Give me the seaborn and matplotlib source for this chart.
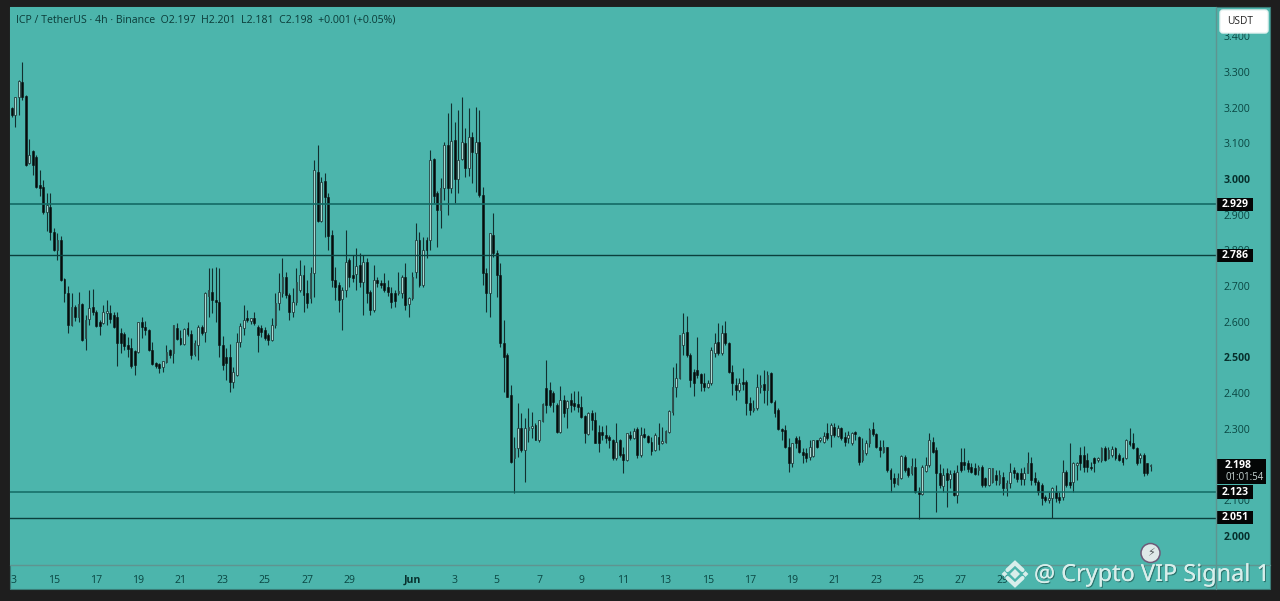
import matplotlib
matplotlib.use("Agg")
import matplotlib.pyplot as plt
import matplotlib.patheffects as pe
from matplotlib.patches import Circle, FancyBboxPatch, Rectangle
import numpy as np
import pandas as pd
import seaborn as sns

# ICP/USDT 4h candles
opens = [
    3.199,3.179,3.23,3.272,3.233,3.045,3.078,3.062,2.983,2.978,
    2.908,2.922,2.852,2.801,2.829,2.72,2.681,2.591,2.641,2.613,
    2.65,2.555,2.608,2.641,2.627,2.599,2.596,2.625,2.625,2.619,
    2.613,2.569,2.566,2.535,2.526,2.518,2.515,2.599,2.585,2.577,
    2.521,2.484,2.482,2.473,2.487,2.521,2.512,2.582,2.555,2.538,
    2.582,2.566,2.51,2.535,2.585,2.571,2.672,2.683,2.661,2.655,
    2.535,2.501,2.501,2.431,2.451,2.543,2.582,2.61,2.602,2.61,
    2.585,2.582,2.577,2.563,2.549,2.591,2.653,2.681,2.725,2.675,
    2.627,2.655,2.689,2.731,2.681,2.667,2.737,3.02,2.882,2.994,
    2.95,2.843,2.717,2.703,2.664,2.689,2.773,2.731,2.734,2.759,
    2.711,2.767,2.683,2.633,2.717,2.709,2.709,2.697,2.681,2.681,
    2.681,2.681,2.725,2.65,2.667,2.739,2.829,2.703,2.829,2.829,
    3.056,2.961,2.913,2.975,3.095,2.975,3.109,3.0,3.056,3.101,
    3.031,3.118,3.073,3.104,2.955,2.737,2.681,2.843,2.793,2.731,
    2.54,2.507,2.395,2.218,2.246,2.302,2.241,2.297,2.302,2.311,
    2.269,2.322,2.414,2.409,2.4,2.367,2.291,2.381,2.358,2.381,
    2.372,2.369,2.361,2.336,2.285,2.344,2.325,2.291,2.291,2.283,
    2.277,2.269,2.218,2.269,2.23,2.213,2.283,2.274,2.3,2.227,
    2.285,2.28,2.263,2.241,2.277,2.26,2.263,2.291,2.347,2.417,
    2.442,2.535,2.571,2.507,2.459,2.465,2.454,2.428,2.417,2.428,
    2.512,2.543,2.512,2.569,2.54,2.459,2.423,2.409,2.431,2.431,
    2.372,2.353,2.358,2.417,2.426,2.409,2.456,2.375,2.353,2.3,
    2.297,2.249,2.204,2.274,2.269,2.235,2.232,2.221,2.224,2.269,
    2.269,2.263,2.288,2.283,2.305,2.28,2.302,2.277,2.274,2.26,
    2.291,2.277,2.213,2.232,2.26,2.3,2.285,2.249,2.235,2.249,
    2.185,2.162,2.146,2.162,2.221,2.19,2.176,2.193,2.126,2.117,
    2.182,2.199,2.263,2.241,2.176,2.14,2.176,2.159,2.176,2.115,
    2.207,2.207,2.204,2.193,2.19,2.185,2.193,2.162,2.143,2.151,
    2.171,2.148,2.165,2.134,2.148,2.185,2.176,2.176,2.159,2.176,
    2.204,2.162,2.151,2.143,2.109,2.101,2.106,2.123,2.109,2.109,
    2.179,2.151,2.151,2.199,2.227,2.227,2.213,2.193,2.218,2.213,
    2.213,2.246,2.218,2.227,2.246,2.227,2.218,2.218,2.266,2.26,
    2.246,2.218,2.227,2.204,2.197,
]
highs = [
    3.202,3.23,3.277,3.328,3.235,3.112,3.081,3.067,3.025,2.997,
    2.961,2.961,2.863,2.849,2.84,2.723,2.7,2.681,2.647,2.683,
    2.653,2.619,2.689,2.692,2.633,2.605,2.647,2.661,2.647,2.627,
    2.627,2.582,2.571,2.557,2.554,2.521,2.599,2.613,2.602,2.58,
    2.543,2.487,2.484,2.49,2.535,2.524,2.591,2.597,2.577,2.582,
    2.599,2.577,2.549,2.591,2.591,2.683,2.751,2.751,2.753,2.751,
    2.56,2.526,2.538,2.473,2.569,2.597,2.647,2.633,2.61,2.627,
    2.591,2.591,2.585,2.569,2.611,2.681,2.737,2.779,2.739,2.681,
    2.695,2.751,2.773,2.759,2.717,2.753,3.053,3.095,3.006,3.017,
    2.961,2.857,2.753,2.711,2.697,2.857,2.779,2.787,2.807,2.793,
    2.787,2.779,2.689,2.759,2.725,2.717,2.737,2.717,2.697,2.689,
    2.739,2.731,2.765,2.669,2.739,2.877,2.852,2.838,2.838,3.081,
    3.059,2.966,3.003,3.104,3.185,3.213,3.16,3.193,3.23,3.143,
    3.199,3.132,3.202,3.193,2.978,2.751,2.849,2.905,2.801,2.765,
    2.605,2.512,2.423,2.277,2.372,2.344,2.33,2.358,2.347,2.316,
    2.325,2.372,2.493,2.431,2.406,2.372,2.42,2.395,2.381,2.4,
    2.406,2.406,2.392,2.339,2.347,2.353,2.347,2.311,2.308,2.311,
    2.283,2.272,2.316,2.272,2.249,2.288,2.294,2.302,2.305,2.305,
    2.302,2.283,2.277,2.288,2.316,2.305,2.297,2.353,2.473,2.484,
    2.563,2.624,2.616,2.512,2.468,2.557,2.456,2.456,2.437,2.529,
    2.569,2.597,2.591,2.602,2.543,2.479,2.442,2.442,2.471,2.437,
    2.389,2.381,2.454,2.451,2.465,2.462,2.459,2.381,2.358,2.302,
    2.311,2.274,2.26,2.28,2.28,2.246,2.246,2.269,2.269,2.269,
    2.277,2.291,2.316,2.316,2.316,2.311,2.305,2.291,2.294,2.291,
    2.294,2.28,2.274,2.269,2.302,2.319,2.288,2.269,2.269,2.249,
    2.19,2.176,2.176,2.227,2.227,2.193,2.218,2.218,2.137,2.199,
    2.221,2.288,2.277,2.249,2.201,2.19,2.19,2.185,2.185,2.199,
    2.246,2.246,2.213,2.204,2.204,2.199,2.199,2.165,2.19,2.19,
    2.185,2.185,2.179,2.157,2.204,2.193,2.179,2.19,2.193,2.235,
    2.221,2.179,2.157,2.148,2.115,2.123,2.137,2.143,2.123,2.213,
    2.185,2.26,2.207,2.207,2.249,2.252,2.232,2.207,2.221,2.221,
    2.249,2.252,2.249,2.252,2.249,2.232,2.221,2.272,2.302,2.288,
    2.249,2.232,2.232,2.204,2.201,
]
lows = [
    3.174,3.146,3.179,3.221,3.036,3.042,3.011,2.975,2.952,2.902,
    2.854,2.829,2.799,2.773,2.714,2.655,2.569,2.588,2.602,2.599,
    2.546,2.521,2.591,2.619,2.585,2.563,2.594,2.591,2.596,2.582,
    2.476,2.512,2.521,2.501,2.47,2.451,2.512,2.554,2.563,2.518,
    2.479,2.47,2.456,2.459,2.484,2.498,2.484,2.549,2.535,2.535,
    2.56,2.496,2.504,2.493,2.563,2.543,2.613,2.625,2.599,2.501,
    2.465,2.437,2.403,2.414,2.448,2.529,2.563,2.599,2.594,2.591,
    2.515,2.557,2.549,2.535,2.546,2.582,2.633,2.669,2.667,2.605,
    2.613,2.647,2.683,2.627,2.639,2.653,2.669,2.88,2.88,2.838,
    2.801,2.697,2.661,2.627,2.577,2.669,2.697,2.711,2.689,2.697,
    2.619,2.652,2.619,2.627,2.697,2.695,2.683,2.672,2.639,2.641,
    2.675,2.667,2.633,2.613,2.661,2.723,2.697,2.697,2.779,2.801,
    2.933,2.81,2.863,2.941,2.899,2.961,2.933,2.961,3.053,3.006,
    3.008,2.989,2.964,2.95,2.703,2.627,2.613,2.781,2.669,2.529,
    2.403,2.389,2.204,2.12,2.221,2.235,2.151,2.263,2.274,2.269,
    2.263,2.319,2.344,2.361,2.347,2.288,2.288,2.333,2.302,2.347,
    2.353,2.347,2.33,2.26,2.283,2.297,2.26,2.235,2.269,2.26,
    2.246,2.213,2.213,2.221,2.176,2.21,2.269,2.272,2.218,2.221,
    2.274,2.26,2.227,2.238,2.241,2.258,2.26,2.288,2.339,2.389,
    2.44,2.507,2.501,2.417,2.392,2.442,2.406,2.406,2.414,2.423,
    2.501,2.507,2.507,2.535,2.456,2.395,2.381,2.403,2.409,2.339,
    2.339,2.347,2.353,2.4,2.372,2.367,2.372,2.333,2.297,2.269,
    2.246,2.179,2.193,2.246,2.232,2.204,2.207,2.213,2.221,2.246,
    2.263,2.26,2.269,2.249,2.277,2.277,2.269,2.252,2.26,2.255,
    2.269,2.199,2.207,2.227,2.249,2.28,2.246,2.221,2.232,2.179,
    2.123,2.137,2.143,2.159,2.179,2.165,2.171,2.12,2.047,2.115,
    2.179,2.193,2.232,2.067,2.134,2.123,2.081,2.134,2.112,2.092,
    2.179,2.185,2.179,2.176,2.171,2.171,2.137,2.137,2.14,2.148,
    2.143,2.143,2.115,2.112,2.134,2.162,2.151,2.143,2.143,2.176,
    2.143,2.143,2.115,2.087,2.095,2.092,2.05,2.095,2.092,2.101,
    2.137,2.134,2.123,2.157,2.185,2.179,2.179,2.185,2.179,2.207,
    2.207,2.21,2.216,2.221,2.213,2.21,2.199,2.216,2.252,2.244,
    2.199,2.204,2.168,2.171,2.181,
]
closes = [
    3.179,3.23,3.275,3.23,3.039,3.067,3.039,2.978,2.975,2.908,
    2.927,2.852,2.801,2.829,2.717,2.681,2.591,2.641,2.613,2.65,
    2.549,2.605,2.639,2.627,2.588,2.588,2.627,2.63,2.608,2.585,
    2.54,2.54,2.532,2.524,2.476,2.479,2.599,2.585,2.577,2.521,
    2.482,2.476,2.47,2.49,2.515,2.507,2.591,2.552,2.538,2.58,
    2.566,2.507,2.54,2.585,2.569,2.681,2.689,2.661,2.655,2.535,
    2.479,2.484,2.431,2.459,2.543,2.588,2.605,2.605,2.61,2.597,
    2.563,2.571,2.554,2.549,2.591,2.653,2.683,2.725,2.675,2.627,
    2.655,2.711,2.731,2.675,2.653,2.737,3.025,2.882,2.992,2.95,
    2.84,2.717,2.697,2.661,2.689,2.767,2.725,2.723,2.756,2.711,
    2.767,2.681,2.633,2.717,2.709,2.703,2.689,2.683,2.655,2.658,
    2.686,2.725,2.647,2.667,2.725,2.829,2.703,2.801,2.801,3.053,
    2.952,2.913,2.975,3.095,2.975,3.106,3.0,3.053,3.104,3.031,
    3.118,3.076,3.104,2.955,2.737,2.681,2.849,2.793,2.731,2.54,
    2.501,2.389,2.207,2.246,2.302,2.241,2.302,2.305,2.308,2.269,
    2.325,2.37,2.367,2.367,2.375,2.291,2.381,2.344,2.378,2.367,
    2.364,2.361,2.333,2.288,2.344,2.325,2.26,2.26,2.283,2.274,
    2.269,2.218,2.263,2.227,2.213,2.288,2.274,2.294,2.227,2.283,
    2.277,2.263,2.238,2.283,2.257,2.266,2.294,2.35,2.417,2.442,
    2.563,2.569,2.507,2.437,2.428,2.451,2.428,2.417,2.428,2.521,
    2.54,2.512,2.569,2.54,2.459,2.428,2.409,2.428,2.426,2.372,
    2.353,2.358,2.417,2.423,2.409,2.451,2.375,2.344,2.3,2.294,
    2.249,2.204,2.26,2.26,2.235,2.227,2.218,2.249,2.269,2.249,
    2.274,2.28,2.274,2.311,2.283,2.302,2.274,2.263,2.283,2.288,
    2.285,2.207,2.241,2.26,2.297,2.285,2.249,2.241,2.249,2.185,
    2.16,2.148,2.162,2.224,2.185,2.171,2.196,2.123,2.117,2.193,
    2.199,2.269,2.235,2.176,2.143,2.171,2.157,2.173,2.115,2.179,
    2.185,2.199,2.187,2.179,2.173,2.193,2.143,2.143,2.19,2.19,
    2.157,2.171,2.134,2.148,2.179,2.176,2.159,2.159,2.176,2.204,
    2.157,2.151,2.123,2.106,2.101,2.106,2.134,2.106,2.101,2.179,
    2.143,2.143,2.204,2.204,2.204,2.193,2.193,2.19,2.204,2.218,
    2.246,2.213,2.241,2.244,2.218,2.213,2.207,2.269,2.258,2.246,
    2.204,2.227,2.176,2.176,2.198,
]

levels = [2.929, 2.786, 2.123, 2.051]
level_colors = ["#136a64", "#0b3f3c", "#136a64", "#0b3f3c"]
level_widths = [1.2, 1.0, 1.1, 1.0]

price_ticks = [2.0, 2.1, 2.2, 2.3, 2.4, 2.5, 2.6, 2.7, 2.8, 2.9, 3.0, 3.1, 3.2, 3.3, 3.4]
bold_prices = [2.0, 2.5, 3.0]
date_ticks = [0.4, 12, 24, 36, 48, 60, 72, 84, 96, 114, 126, 138, 150, 162, 174,
              186, 198, 210, 222, 234, 246, 258, 270, 282]
date_labels = ["3", "15", "17", "19", "21", "23", "25", "27", "29", "Jun", "3", "5", "7", "9", "11",
               "13", "15", "17", "19", "21", "23", "25", "27", "29"]

BG = "#4cb5ac"
FRAME = "#1e1e1e"
INK = "#0a4642"
PANE = "#5f9490"

df = pd.DataFrame({"open": opens, "high": highs, "low": lows, "close": closes})
df["i"] = np.arange(len(df))
print(df.shape)

sns.set_style("white")
plt.rcParams["font.family"] = ["Open Sans", "DejaVu Sans"]

fig = plt.figure(figsize=(12.8, 6.01), dpi=100, facecolor=FRAME)

# main price area, 10..1216 px across and 7..565 px down
ax = fig.add_axes([10 / 1280, 1 - 565 / 601, 1206 / 1280, 558 / 601], facecolor=BG)

ax.vlines(df["i"], df["low"], df["high"], color="#12302f", linewidth=0.8, zorder=2)

up = df[df["close"] >= df["open"]]
down = df[df["close"] < df["open"]]
ax.bar(up["i"], up["close"] - up["open"], bottom=up["open"], width=0.5,
       color="#a9d8d2", edgecolor="#24403f", linewidth=0.6, zorder=3)
ax.bar(down["i"], down["open"] - down["close"], bottom=down["close"], width=0.55,
       color="#060b0b", edgecolor="#0c1414", linewidth=0.4, zorder=3)

for level, c, w in zip(levels, level_colors, level_widths):
    sns.lineplot(x=[-1, 343], y=[level, level], color=c, linewidth=w, ax=ax, zorder=4,
                 errorbar=None)

ax.set_xlim(-0.5, 342.6)
ax.set_ylim(1.9185, 3.482)
ax.set_xlabel("")
ax.set_ylabel("")
for s in ax.spines.values():
    s.set_visible(False)

ax.yaxis.tick_right()
ax.set_yticks(price_ticks)
ax.set_yticklabels(["%.3f" % p for p in price_ticks], fontsize=7.6, color=INK)
for lab, p in zip(ax.get_yticklabels(), price_ticks):
    if p in bold_prices:
        lab.set_fontweight("bold")
        lab.set_color("#07302d")
ax.tick_params(axis="y", length=0, pad=5.5)

ax.set_xticks(date_ticks)
ax.set_xticklabels(date_labels, fontsize=7.6, color=INK)
for lab, t in zip(ax.get_xticklabels(), date_labels):
    if t == "Jun":
        lab.set_fontweight("bold")
        lab.set_color("#07302d")
ax.tick_params(axis="x", length=0, pad=7)

# black price tags on the axis
for level in levels:
    ax.add_patch(Rectangle((1.0008, level - 0.0185), 36 / 1206, 0.037,
                           transform=ax.get_yaxis_transform(), fc="#040606", ec="none",
                           clip_on=False, zorder=9))
    ax.text(1.0008 + 18 / 1206, level, "%.3f" % level, transform=ax.get_yaxis_transform(),
            fontsize=7.6, fontweight="bold", color="white", va="center", ha="center",
            clip_on=False, zorder=10)

# overlay in pixel coordinates for the panes, header and watermark
over = fig.add_axes([0, 0, 1, 1], facecolor="none", zorder=-1)
over.set_xlim(0, 1280)
over.set_ylim(601, 0)
over.axis("off")
over.add_patch(Rectangle((10, 7), 1260, 582, fc=BG, ec="#3b7d78", lw=0.8))

top = fig.add_axes([0, 0, 1, 1], facecolor="none", zorder=5)
top.set_xlim(0, 1280)
top.set_ylim(601, 0)
top.axis("off")
top.plot([1216, 1216], [7, 589], color=PANE, lw=1)
top.plot([10, 1270], [565, 565], color=PANE, lw=1)

top.text(16, 19.5, "ICP / TetherUS · 4h · Binance  O2.197  H2.201  L2.181  C2.198  +0.001 (+0.05%)",
         fontsize=7.55, color="#0b3b38", va="center", ha="left")

top.add_patch(FancyBboxPatch((1220, 10), 48, 23, boxstyle="round,pad=0,rounding_size=3",
                             fc="white", ec="#e6f3f1", lw=1.0))
top.text(1240, 21, "USDT", fontsize=7.3, color="#222222", va="center", ha="center")

top.add_patch(Rectangle((1217, 459), 49, 25, fc="#040606", ec="none"))
top.text(1225, 466, "2.198", fontsize=7.6, fontweight="bold", color="white", va="center", ha="left")
top.text(1225, 478, "01:01:54", fontsize=6.9, color="#c9d6d4", va="center", ha="left")

# watermark
top.add_patch(Circle((1150.5, 553), 9.5, fc="#dfe9e8", ec="#6d5a78", lw=1.1))
top.text(1150.5, 553, "⚡", fontsize=8, color="#4f5557", va="center", ha="center",
         family="DejaVu Sans")

WM = "#d8eeeb"
shadow = [pe.withSimplePatchShadow(offset=(0.8, -0.8), shadow_rgbFace="#1b4a46", alpha=0.6), pe.Normal()]
top.scatter([1015, 1004.5, 1025.5], [574, 574, 574], marker="D", s=[26, 9, 9], color=WM, linewidths=0)
top.plot([1007.5, 1015, 1022.5], [570, 563, 570], color=WM, lw=3, solid_joinstyle="miter")
top.plot([1007.5, 1015, 1022.5], [578, 585, 578], color=WM, lw=3, solid_joinstyle="miter")
top.text(1034, 575, "@ Crypto VIP Signal 1", fontsize=16.9, color=WM, va="center", ha="left",
         family="Noto Sans", path_effects=shadow)

fig.savefig("out.png", dpi=100, facecolor=FRAME)
